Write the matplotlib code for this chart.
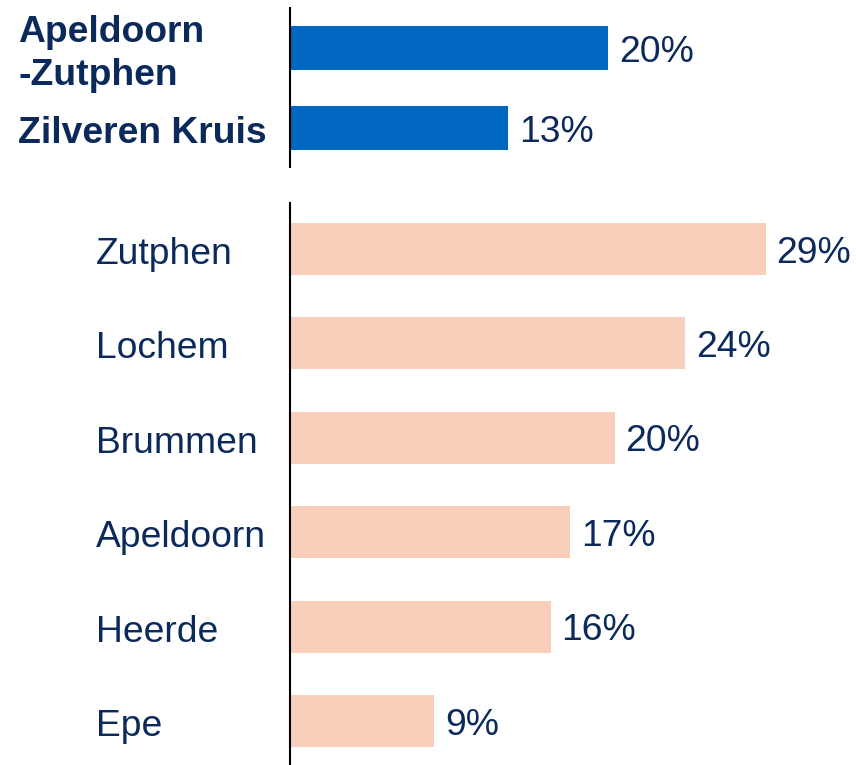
import matplotlib.pyplot as plt
from matplotlib.transforms import blended_transform_factory

plt.rcParams["font.family"] = ["Liberation Sans", "DejaVu Sans"]

# Data
top_labels = ["Apeldoorn\n-Zutphen", "Zilveren Kruis"]
top_values = [19.4, 13.3]
top_texts = ["20%", "13%"]

bottom_labels = ["Zutphen", "Lochem", "Brummen", "Apeldoorn", "Heerde", "Epe"]
bottom_values = [29.0, 24.1, 19.8, 17.1, 15.9, 8.8]
bottom_texts = ["29%", "24%", "20%", "17%", "16%", "9%"]

NAVY = "#0B2A5B"
BLUE = "#0068C0"
PEACH = "#F9CEBA"
W, H = 856, 765
FS = 26.8
XMAX = (W - 290) / 16.4
DOWN = -3.0  # points, nudges text onto the bar centre

fig = plt.figure(figsize=(W / 100, H / 100), dpi=100)


def make_axes(y0, y1):
    return fig.add_axes([290 / W, 1 - y1 / H, (W - 290) / W, (y1 - y0) / H])


def style(ax):
    for s in ["top", "right", "bottom"]:
        ax.spines[s].set_visible(False)
    ax.spines["left"].set_linewidth(1.5)
    ax.spines["left"].set_color("black")
    ax.set_xticks([])
    ax.set_yticks([])
    ax.set_xlim(0, XMAX)
    ax.patch.set_alpha(0)


def draw(ax, values, texts, labels, color, label_x, bold):
    pos = list(range(len(values)))
    ax.barh(pos, values, height=0.55, color=color)
    trans = blended_transform_factory(fig.transFigure, ax.transData)
    for p, v, t, lab in zip(pos, values, texts, labels):
        ax.annotate(t, xy=(v + 0.65, p), xytext=(0, DOWN),
                    textcoords="offset points", va="center", ha="left",
                    fontsize=FS, color=NAVY)
        ax.annotate(lab, xy=(label_x / W, p), xycoords=trans,
                    xytext=(0, DOWN - 1), textcoords="offset points",
                    va="center", ha="left", fontsize=FS, color=NAVY,
                    fontweight="bold" if bold else "normal", linespacing=1.3)


# Top panel
ax1 = make_axes(8, 167)
style(ax1)
ax1.set_ylim(1.4875, -0.5)
draw(ax1, top_values, top_texts, top_labels, BLUE, 18, True)

# Bottom panel
ax2 = make_axes(203, 765)
style(ax2)
ax2.set_ylim(5.466, -0.487)
draw(ax2, bottom_values, bottom_texts, bottom_labels, PEACH, 96, False)

fig.savefig("out.png", dpi=100)
